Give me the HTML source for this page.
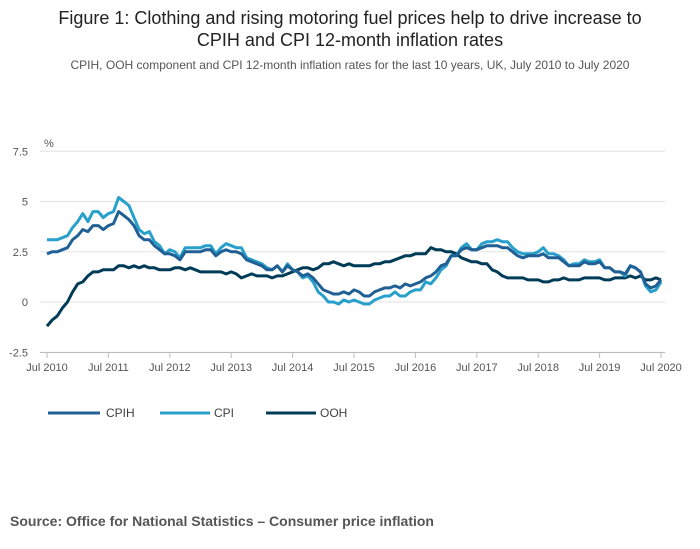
<!DOCTYPE html>
<html><head><meta charset="utf-8"><style>
body{margin:0;background:#fff;font-family:"Liberation Sans",sans-serif;}
svg{display:block}
</style></head><body>
<svg width="700" height="549">
<text x="350" y="24" text-anchor="middle" font-size="18" fill="#222">Figure 1: Clothing and rising motoring fuel prices help to drive increase to</text>
<text x="350" y="46" text-anchor="middle" font-size="18" fill="#222">CPIH and CPI 12-month inflation rates</text>
<text x="350" y="69" text-anchor="middle" font-size="12" fill="#555">CPIH, OOH component and CPI 12-month inflation rates for the last 10 years, UK, July 2010 to July 2020</text>
<text x="44" y="147" font-size="11" fill="#555">%</text>
<g id="grid"></g><g id="xaxis"></g><g id="series"></g>
<g>
<g><line x1="48" y1="413" x2="100" y2="413" stroke="#206095" stroke-width="3"/><text x="106" y="417" font-size="12" fill="#414042">CPIH</text></g>
<g><line x1="160" y1="413" x2="210" y2="413" stroke="#27a0cc" stroke-width="3"/><text x="214" y="417" font-size="12" fill="#414042">CPI</text></g>
<g><line x1="266" y1="413" x2="316" y2="413" stroke="#003c57" stroke-width="3"/><text x="320" y="417" font-size="12" fill="#414042">OOH</text></g>
</g>
<text x="10" y="526" font-size="14" font-weight="bold" fill="#555">Source: Office for National Statistics – Consumer price inflation</text>
</svg>
<script>
const yTicks=[7.5,5,2.5,0,-2.5];
const yTickLabels=["7.5","5","2.5","0","-2.5"];
const xTickLabels=["Jul 2010","Jul 2011","Jul 2012","Jul 2013","Jul 2014","Jul 2015","Jul 2016","Jul 2017","Jul 2018","Jul 2019","Jul 2020"];
const cpi=[3.1,3.1,3.1,3.2,3.3,3.7,
4.0,4.4,4.0,4.5,4.5,4.2,4.4,4.5,5.2,5.0,4.8,4.2,
3.6,3.4,3.5,3.0,2.8,2.4,2.6,2.5,2.2,2.7,2.7,2.7,
2.7,2.8,2.8,2.4,2.7,2.9,2.8,2.7,2.7,2.2,2.1,2.0,
1.9,1.7,1.6,1.8,1.5,1.9,1.6,1.5,1.2,1.3,1.0,0.5,
0.3,0.0,0.0,-0.1,0.1,0.0,0.1,0.0,-0.1,-0.1,0.1,0.2,
0.3,0.3,0.5,0.3,0.3,0.5,0.6,0.6,1.0,0.9,1.2,1.6,
1.8,2.3,2.3,2.7,2.9,2.6,2.6,2.9,3.0,3.0,3.1,3.0,
3.0,2.7,2.5,2.4,2.4,2.4,2.5,2.7,2.4,2.4,2.3,2.1,
1.8,1.9,1.9,2.1,2.0,2.0,2.1,1.7,1.7,1.5,1.5,1.3,
1.8,1.7,1.5,0.8,0.5,0.6,1.0];
const cpih=[2.4,2.5,2.5,2.6,2.7,3.1,
3.3,3.6,3.5,3.8,3.8,3.6,3.8,3.9,4.5,4.3,4.1,3.8,
3.3,3.1,3.1,2.8,2.6,2.4,2.4,2.3,2.1,2.5,2.5,2.5,
2.5,2.6,2.6,2.3,2.5,2.6,2.5,2.5,2.4,2.1,2.0,1.9,
1.8,1.6,1.6,1.8,1.5,1.8,1.6,1.5,1.3,1.4,1.2,0.9,
0.6,0.5,0.4,0.4,0.5,0.4,0.6,0.5,0.3,0.3,0.5,0.6,
0.7,0.7,0.8,0.7,0.9,0.8,0.9,1.0,1.2,1.3,1.5,1.8,
1.9,2.3,2.3,2.6,2.7,2.6,2.6,2.7,2.8,2.8,2.8,2.7,
2.7,2.5,2.3,2.2,2.3,2.3,2.3,2.4,2.2,2.2,2.2,2.0,
1.8,1.8,1.8,2.0,1.9,1.9,2.0,1.7,1.7,1.5,1.5,1.4,
1.8,1.7,1.5,0.9,0.7,0.8,1.1];
const ooh=[-1.2,-0.9,-0.7,-0.3,0.0,0.5,
0.9,1.0,1.3,1.5,1.5,1.6,1.6,1.6,1.8,1.8,1.7,1.8,
1.7,1.8,1.7,1.7,1.6,1.6,1.6,1.7,1.7,1.6,1.7,1.6,
1.5,1.5,1.5,1.5,1.5,1.4,1.5,1.4,1.2,1.3,1.4,1.3,
1.3,1.3,1.2,1.3,1.3,1.4,1.5,1.6,1.7,1.7,1.6,1.7,
1.9,1.9,2.0,1.9,1.8,1.9,1.8,1.8,1.8,1.8,1.9,1.9,
2.0,2.0,2.1,2.2,2.3,2.3,2.4,2.4,2.4,2.7,2.6,2.6,
2.5,2.5,2.4,2.2,2.1,2.0,2.0,1.9,1.9,1.6,1.5,1.3,
1.2,1.2,1.2,1.2,1.1,1.1,1.1,1.0,1.0,1.1,1.1,1.2,
1.1,1.1,1.1,1.2,1.2,1.2,1.2,1.1,1.1,1.2,1.2,1.2,
1.3,1.2,1.3,1.1,1.1,1.2,1.1];
const NS="http://www.w3.org/2000/svg";
const x0=47,x1=661,y0=302,pxPerUnit=20.1;
const xs=i=>x0+(x1-x0)*i/120;
const ys=v=>y0-v*pxPerUnit;
function mk(t,a,p){const e=document.createElementNS(NS,t);for(const k in a)e.setAttribute(k,a[k]);p.appendChild(e);return e;}
const grid=document.getElementById('grid');
yTicks.forEach((t,i)=>{
 const l=mk('line',{x1:40,x2:665,y1:ys(t),y2:ys(t),stroke:'#e2e2e3','stroke-width':1},grid);
 
 
 const tx=mk('text',{x:28,y:ys(t)+4,'text-anchor':'end','font-size':11,fill:'#555'},grid);
 tx.textContent=yTickLabels[i];
 
 
});
const xa=document.getElementById('xaxis');
const base=mk('line',{x1:40,x2:665,y1:352.5,y2:352.5,stroke:'#bbb'},xa);


xTickLabels.forEach((lab,i)=>{
 const x=xs(i*12);
 mk('line',{x1:x,x2:x,y1:352,y2:358,stroke:'#bbb'},xa);
 const tx=mk('text',{x:x,y:371,'text-anchor':'middle','font-size':11,fill:'#555'},xa);
 tx.textContent=lab;
 
 
});
const sg=document.getElementById('series');
[[ooh,'#003c57','ooh-line'],[cpi,'#27a0cc','cpi-line'],[cpih,'#206095','cpih-line']].forEach(([d,c,n])=>{
 const p=mk('polyline',{points:d.map((v,i)=>xs(i).toFixed(1)+','+ys(v).toFixed(1)).join(' '),fill:'none',stroke:c,'stroke-width':3,'stroke-linejoin':'round'},sg);
 
 
});
</script>
</body></html>
